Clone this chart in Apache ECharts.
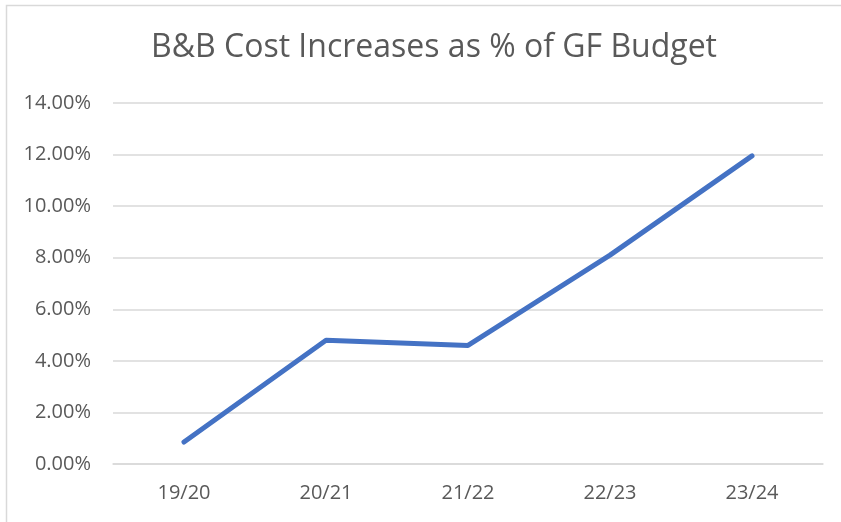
<!DOCTYPE html>
<html>
<head>
<meta charset="utf-8">
<script src="https://cdn.jsdelivr.net/npm/echarts@6/dist/echarts.min.js"></script>
<style>
html, body { margin: 0; padding: 0; background: #fff; }
#chart { width: 841px; height: 522px; }
</style>
</head>
<body>
<div id="chart"></div>
<script>
// data
var categories = ['19/20', '20/21', '21/22', '22/23', '23/24'];
var costIncrease = [0.0085, 0.048, 0.046, 0.081, 0.1195];
var yTicks = [0, 0.02, 0.04, 0.06, 0.08, 0.10, 0.12, 0.14];

var myChart = echarts.init(document.getElementById('chart'));

var option = {
	backgroundColor: '#fff',
	animation: false,
	title: {
		text: 'B&B Cost Increases as % of GF Budget',
		left: 146,
		top: 27,
		textStyle: {
			fontFamily: 'Open Sans',
			fontWeight: 'normal',
			fontSize: 32,
			color: '#595959'
		}
	},
	graphic: [{
		type: 'polyline',
		shape: { points: [[6.5, 530], [6.5, 5.5], [850, 5.5]] },
		style: { stroke: '#d9d9d9', lineWidth: 1.5, fill: null }
	}],
	grid: {
		left: 113,
		right: 18,
		top: 103,
		bottom: 58
	},
	xAxis: {
		type: 'category',
		data: categories,
		boundaryGap: true,
		axisLine: { show: true, lineStyle: { color: '#d9d9d9', width: 1.5 } },
		axisTick: { show: false },
		axisLabel: {
			margin: 19,
			fontFamily: 'Open Sans',
			fontSize: 20,
			color: '#595959'
		}
	},
	yAxis: {
		type: 'value',
		min: yTicks[0],
		max: yTicks[yTicks.length - 1],
		interval: 0.02,
		axisLine: { show: false },
		axisTick: { show: false },
		splitLine: { lineStyle: { color: '#d9d9d9', width: 1.5 } },
		axisLabel: {
			margin: 22,
			fontFamily: 'Open Sans',
			fontSize: 20,
			color: '#595959',
			formatter: function(v) { return (v * 100).toFixed(2) + '%'; }
		}
	},
	series: [{
		type: 'line',
		data: costIncrease,
		symbol: 'none',
		lineStyle: { color: '#4472c4', width: 5, cap: 'round', join: 'round' }
	}]
};

myChart.setOption(option);
</script>
</body>
</html>
